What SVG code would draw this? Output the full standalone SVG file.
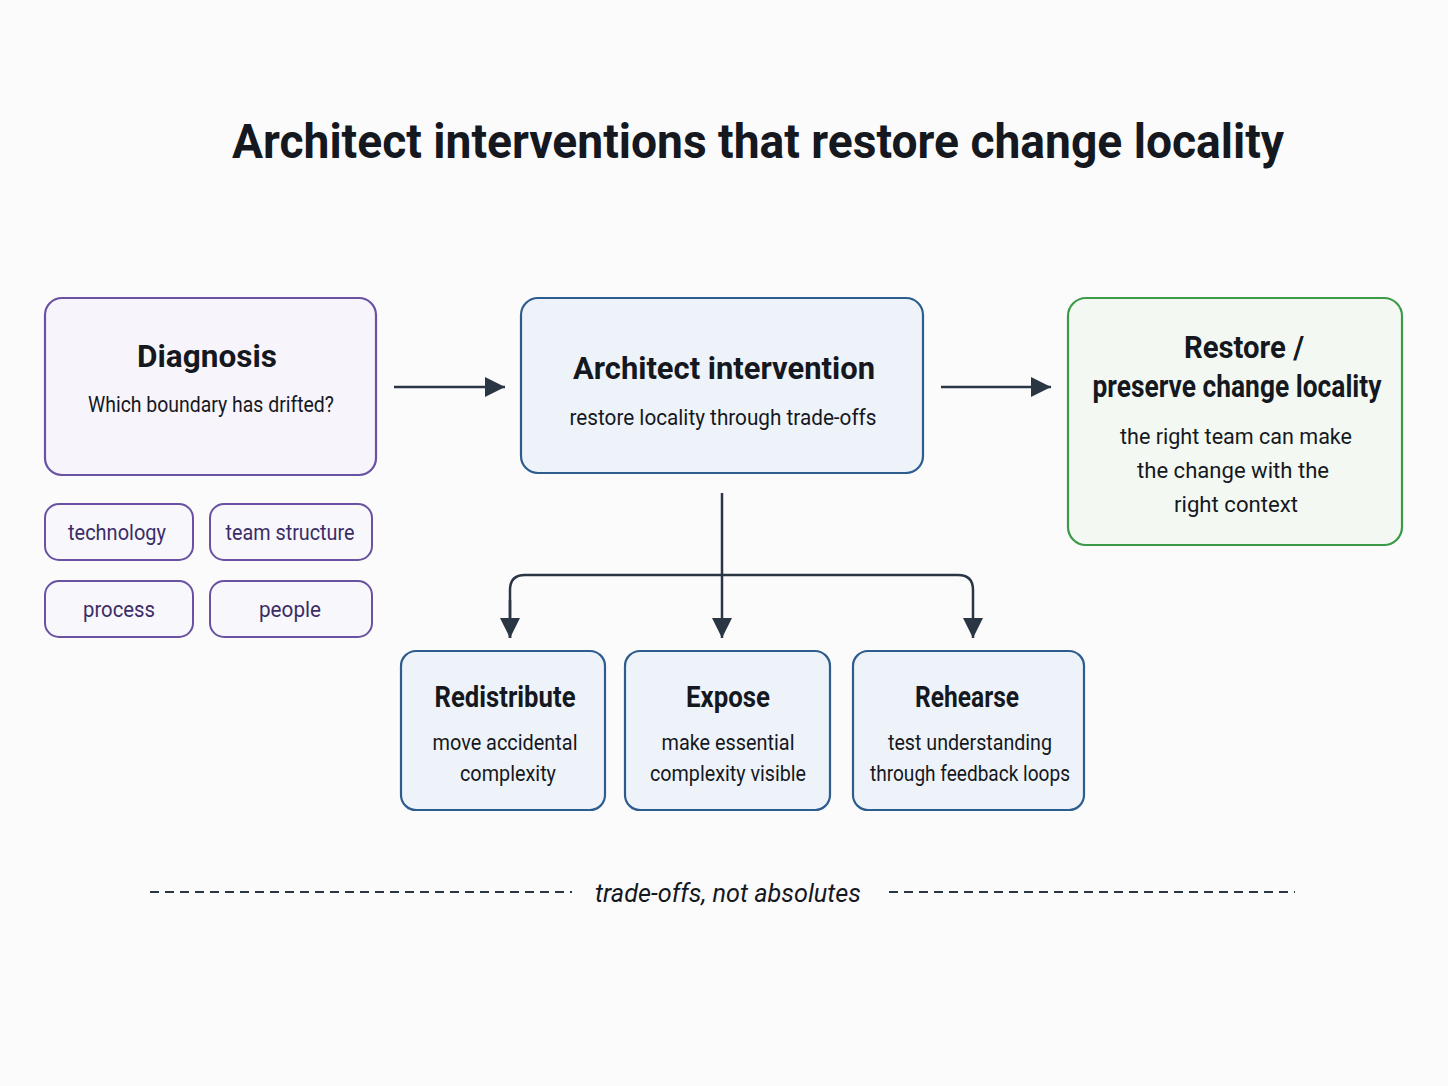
<svg xmlns="http://www.w3.org/2000/svg" width="1448" height="1086" viewBox="0 0 1448 1086">
<defs>
<marker id="ah2" viewBox="0 0 20 20" refX="20" refY="10" markerWidth="20" markerHeight="20" markerUnits="userSpaceOnUse" orient="auto">
<path d="M0,0 L20,10 L0,20 z" fill="#2b3645"/>
</marker>
<style>
text{font-family:Roboto,"Noto Sans",sans-serif;text-anchor:middle;fill:#15181e}
.t{font-weight:700;font-size:31px}
.b{font-weight:700;font-size:29px}
.s{font-size:22px}
.pur{fill:#f7f5fb;stroke:#6a52a3;stroke-width:2.2}
.chip{fill:#f8f7fb;stroke:#6a52a3;stroke-width:2}
.chipt{font-size:22px;fill:#3b2d68}
.blu{fill:#eef3f9;stroke:#2d5d8f;stroke-width:2.2}
.grn{fill:#f3f9f2;stroke:#3b9a48;stroke-width:2.2}
.con{fill:none;stroke:#2b3645;stroke-width:2.5}
.dash{stroke:#2b3645;stroke-width:2;stroke-dasharray:9 6}
</style>
</defs>
<rect width="1448" height="1086" fill="#fbfbfc"/>
<text x="758" y="158" font-size="48" font-weight="700" textLength="1052" lengthAdjust="spacingAndGlyphs">Architect  interventions that restore change locality</text>

<g id="connectors">
<line class="con" x1="394" y1="387" x2="505" y2="387" marker-end="url(#ah2)"/>
<line class="con" x1="941" y1="387" x2="1051" y2="387" marker-end="url(#ah2)"/>
<line class="con" x1="722" y1="493" x2="722" y2="638" marker-end="url(#ah2)"/>
<path class="con" d="M510,638 L510,590 Q510,575 525,575 L958,575 Q973,575 973,590 L973,638" marker-end="url(#ah2)"/>
<line class="con" x1="510" y1="600" x2="510" y2="638" marker-end="url(#ah2)"/>
</g>

<g id="diagnosis">
<rect class="pur" x="45" y="298" width="331" height="177" rx="17"/>
<text class="t" x="207" y="367" textLength="140" lengthAdjust="spacingAndGlyphs">Diagnosis</text>
<text class="s" x="211" y="412" textLength="246" lengthAdjust="spacingAndGlyphs">Which boundary has drifted?</text>
</g>
<g id="technology">
<rect class="chip" x="45" y="504" width="148" height="56" rx="14"/>
<text class="chipt" x="117" y="540" textLength="98" lengthAdjust="spacingAndGlyphs">technology</text>
</g>
<g id="team-structure">
<rect class="chip" x="210" y="504" width="162" height="56" rx="14"/>
<text class="chipt" x="290" y="540" textLength="129" lengthAdjust="spacingAndGlyphs">team structure</text>
</g>
<g id="process">
<rect class="chip" x="45" y="581" width="148" height="56" rx="14"/>
<text class="chipt" x="119" y="617" textLength="72" lengthAdjust="spacingAndGlyphs">process</text>
</g>
<g id="people">
<rect class="chip" x="210" y="581" width="162" height="56" rx="14"/>
<text class="chipt" x="290" y="617" textLength="62" lengthAdjust="spacingAndGlyphs">people</text>
</g>

<g id="architect-intervention">
<rect class="blu" x="521" y="298" width="402" height="175" rx="17"/>
<text class="t" x="724" y="379" textLength="302" lengthAdjust="spacingAndGlyphs">Architect intervention</text>
<text class="s" x="723" y="425" textLength="307" lengthAdjust="spacingAndGlyphs">restore locality through trade-offs</text>
</g>

<g id="restore">
<rect class="grn" x="1068" y="298" width="334" height="247" rx="18"/>
<text class="t" x="1244" y="358" textLength="120" lengthAdjust="spacingAndGlyphs">Restore /</text>
<text class="t" x="1237" y="397" textLength="289" lengthAdjust="spacingAndGlyphs">preserve change locality</text>
<text class="s" x="1236" y="444" textLength="232" lengthAdjust="spacingAndGlyphs">the right team can make</text>
<text class="s" x="1233" y="478" textLength="192" lengthAdjust="spacingAndGlyphs">the change with the</text>
<text class="s" x="1236" y="512" textLength="124" lengthAdjust="spacingAndGlyphs">right context</text>
</g>

<g id="redistribute">
<rect class="blu" x="401" y="651" width="204" height="159" rx="15"/>
<text class="b" x="505" y="707" textLength="141" lengthAdjust="spacingAndGlyphs">Redistribute</text>
<text class="s" x="505" y="750" textLength="145" lengthAdjust="spacingAndGlyphs">move accidental</text>
<text class="s" x="508" y="781" textLength="96" lengthAdjust="spacingAndGlyphs">complexity</text>
</g>
<g id="expose">
<rect class="blu" x="625" y="651" width="205" height="159" rx="15"/>
<text class="b" x="728" y="707" textLength="84" lengthAdjust="spacingAndGlyphs">Expose</text>
<text class="s" x="728" y="750" textLength="133" lengthAdjust="spacingAndGlyphs">make essential</text>
<text class="s" x="728" y="781" textLength="156" lengthAdjust="spacingAndGlyphs">complexity visible</text>
</g>
<g id="rehearse">
<rect class="blu" x="853" y="651" width="231" height="159" rx="15"/>
<text class="b" x="967" y="707" textLength="104" lengthAdjust="spacingAndGlyphs">Rehearse</text>
<text class="s" x="970" y="750" textLength="164" lengthAdjust="spacingAndGlyphs">test understanding</text>
<text class="s" x="970" y="781" textLength="200" lengthAdjust="spacingAndGlyphs">through feedback loops</text>
</g>

<g id="footer">
<line class="dash" x1="150" y1="892" x2="572" y2="892"/>
<line class="dash" x1="889" y1="892" x2="1295" y2="892"/>
<text x="728" y="902" font-size="26" font-style="italic" fill="#22262c" textLength="266" lengthAdjust="spacingAndGlyphs">trade-offs, not absolutes</text>
</g>
</svg>
